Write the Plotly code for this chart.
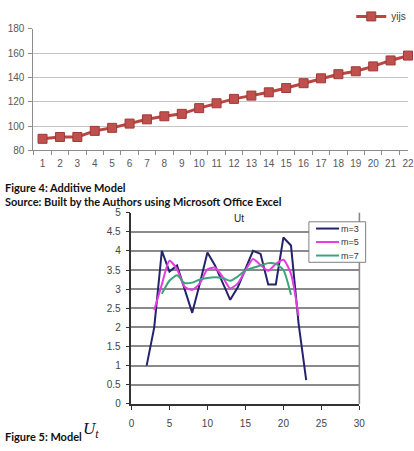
import plotly.graph_objects as go

W, H = 414, 451

# ---- Figure 4 data (Additive model) ----
top_x = list(range(1, 23))
top_labels = [str(i) for i in top_x]
top_y = [89.5, 91, 91, 96, 98.5, 102, 105.5, 108, 110, 114.7, 118.7,
         122.3, 125, 127.7, 131.2, 135.2, 139.2, 142.6, 145, 149, 153.9, 157.9]
top_name = "yijs"

# ---- Figure 5 data (Ut) ----
m3_x = list(range(2, 24))
m3_y = [1.0, 2.0, 4.0, 3.46, 3.62, 3.0, 2.38, 3.15, 3.96, 3.62, 3.15,
        2.72, 3.05, 3.52, 4.0, 3.92, 3.12, 3.12, 4.35, 4.14, 2.1, 0.62]
m5_x = list(range(3, 23))
m5_y = [2.45, 3.12, 3.74, 3.52, 3.06, 2.98, 3.15, 3.52, 3.56, 3.32,
        3.02, 3.15, 3.49, 3.79, 3.63, 3.48, 3.66, 3.77, 3.4, 2.3]
m7_x = list(range(4, 22))
m7_y = [2.88, 3.22, 3.36, 3.16, 3.17, 3.25, 3.29, 3.31, 3.29, 3.22,
        3.33, 3.49, 3.56, 3.62, 3.68, 3.66, 3.5, 2.85]

series_names = ["m=3", "m=5", "m=7"]
series_colors = ["#23236E", "#E63BE0", "#3DA37A"]


def px(x):
    return x / W


def py(y):
    return 1 - y / H


fig = go.Figure()

fig.add_trace(go.Scatter(
    x=top_x, y=top_y, xaxis="x", yaxis="y", name=top_name, showlegend=True,
    mode="lines+markers", cliponaxis=False,
    line=dict(color="#B94643", width=3),
    marker=dict(symbol="square", size=9, color="#C0504D",
                line=dict(color="#9E3A37", width=1)),
))

series = [(m3_x, m3_y, "linear"), (m5_x, m5_y, "spline"), (m7_x, m7_y, "spline")]
for (sx, sy, shape), name, color in zip(series, series_names, series_colors):
    fig.add_trace(go.Scatter(
        x=sx, y=sy, xaxis="x2", yaxis="y2", name=name, showlegend=False,
        mode="lines",
        line=dict(color=color, width=2, shape=shape,
                  **({"smoothing": 0.6} if shape == "spline" else {})),
    ))

tickfont = dict(family="Liberation Sans, Arial, sans-serif", size=10, color="#595959")
tickfont2 = dict(family="Liberation Sans, Arial, sans-serif", size=10, color="#444444")

# manual legend box for the Ut chart (decoration in paper coordinates)
leg_left, leg_right, leg_top, leg_bottom = 312.7, 370.7, 221.7, 263.3
row_h = (leg_bottom - leg_top) / 3
shapes = [
    dict(type="line", xref="x2 domain", yref="y2 domain",
         x0=1, x1=1, y0=0, y1=1, line=dict(color="#8A8A8A", width=1.6)),
    dict(type="rect", xref="paper", yref="paper",
         x0=px(leg_left), x1=px(leg_right), y0=py(leg_bottom), y1=py(leg_top),
         fillcolor="white", line=dict(color="#7F7F7F", width=1), layer="above"),
]
annotations = []
for i, (name, color) in enumerate(zip(series_names, series_colors)):
    yc = leg_top + row_h * (i + 0.5)
    shapes.append(dict(type="line", xref="paper", yref="paper",
                       x0=px(320), x1=px(343.5), y0=py(yc), y1=py(yc),
                       line=dict(color=color, width=2), layer="above"))
    annotations.append(dict(text=name, x=px(343), y=py(yc), xref="paper", yref="paper",
                            showarrow=False, xanchor="left", yanchor="middle",
                            font=dict(family="Liberation Sans, Arial, sans-serif",
                                      size=9, color="#333333")))

annotations += [
    dict(text="Ut", x=px(241.7), y=py(218.3), xref="paper", yref="paper",
         showarrow=False, xanchor="center", yanchor="middle",
         font=dict(family="Liberation Sans, Arial, sans-serif", size=10, color="#222222")),
    dict(text="<b>Figure 4: Additive Model</b>", x=px(0), y=py(186.5),
         xref="paper", yref="paper", showarrow=False,
         xanchor="left", yanchor="middle",
         font=dict(family="Lato, sans-serif", size=11, color="#111111")),
    dict(text="<b>Source: Built by the Authors using Microsoft Office Excel</b>",
         x=px(0), y=py(200.7), xref="paper", yref="paper", showarrow=False,
         xanchor="left", yanchor="middle",
         font=dict(family="Lato, sans-serif", size=11, color="#111111")),
    dict(text="<b>Figure 5: Model</b>", x=px(0), y=py(442.5),
         xref="paper", yref="paper", showarrow=False,
         xanchor="left", yanchor="middle",
         font=dict(family="Lato, sans-serif", size=11, color="#111111")),
    dict(text="<i>U</i><sub><i>t</i></sub>", x=px(80), y=py(436),
         xref="paper", yref="paper", showarrow=False,
         xanchor="left", yanchor="middle",
         font=dict(family="Liberation Serif, serif", size=17, color="#111111")),
]

fig.update_layout(
    width=W, height=H,
    margin=dict(l=0, r=0, t=0, b=0),
    paper_bgcolor="white", plot_bgcolor="white",
    xaxis=dict(
        domain=[px(31), 1], range=[0.47, 22.0], anchor="y",
        tickmode="array", tickvals=top_x, ticktext=top_labels,
        ticks="", showgrid=False, zeroline=False,
        showline=True, linecolor="#8C8C8C", linewidth=1,
        tickfont=tickfont, ticklabelstandoff=4,
        minor=dict(tickmode="linear", tick0=0.5, dtick=1, ticks="outside",
                   ticklen=4, tickcolor="#8C8C8C", showgrid=False),
    ),
    yaxis=dict(
        domain=[py(148.3), py(23.3)], range=[80, 180], anchor="x",
        tickmode="linear", tick0=80, dtick=20,
        showgrid=True, gridcolor="#C4C4C4", gridwidth=1, zeroline=False,
        showline=True, linecolor="#8C8C8C", linewidth=1,
        ticks="outside", ticklen=4, tickcolor="#8C8C8C",
        tickfont=tickfont, ticklabelstandoff=2,
    ),
    xaxis2=dict(
        domain=[px(131.3), px(364.3)], range=[0, 30], anchor="y2",
        tickmode="linear", tick0=0, dtick=5,
        showgrid=False, zeroline=False,
        showline=True, linecolor="#333333", linewidth=1.5,
        ticks="outside", ticklen=4, tickcolor="#333333",
        tickfont=tickfont2, ticklabelstandoff=5,
    ),
    yaxis2=dict(
        domain=[py(408.7), py(212.3)], range=[0, 5], anchor="x2",
        tickmode="linear", tick0=0, dtick=0.5,
        showgrid=True, gridcolor="#8A8A8A", gridwidth=1.6, zeroline=False,
        showline=True, linecolor="#333333", linewidth=1.5,
        ticks="outside", ticklen=4, tickcolor="#333333",
        tickfont=tickfont2, ticklabelstandoff=3,
    ),
    legend=dict(
        x=px(356), y=py(10.7), xanchor="left", yanchor="middle",
        bgcolor="rgba(0,0,0,0)", borderwidth=0,
        font=dict(family="Liberation Sans, Arial, sans-serif", size=10, color="#404040"),
        itemwidth=30,
    ),
    showlegend=True,
    shapes=shapes,
    annotations=annotations,
)

fig.write_html("out.html")
